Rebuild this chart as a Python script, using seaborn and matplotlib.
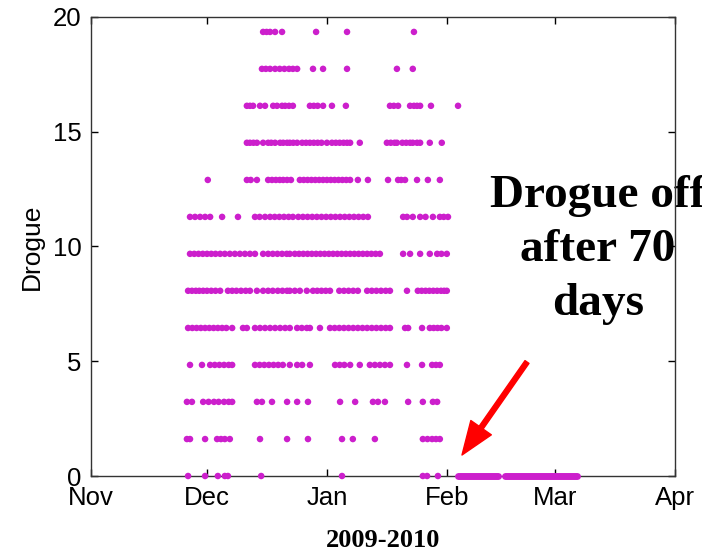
import pandas as pd
import matplotlib
matplotlib.use('Agg')
import matplotlib.pyplot as plt
import matplotlib.dates as mdates
import seaborn as sns

start = pd.Timestamp('2009-11-01')

# drogue value for each row of points
levels = [0.0, 1.61, 3.23, 4.84, 6.45, 8.07, 9.68, 11.29, 12.9, 14.52, 16.13, 17.74, 19.35]

# days since 1 Nov 2009, one list per row
lvl0 = [25.1, 29.5, 32.8, 34.6, 35.4, 44.0, 64.9, 85.8, 86.9, 89.7]
lvl1 = [24.8, 25.6, 29.5, 32.6, 33.6, 34.6, 35.9, 43.7, 50.7, 56.1, 64.9, 67.7, 73.4,
        85.8, 87.0, 88.2, 89.2, 90.2]
lvl2 = [24.8, 26.1, 29.0, 30.4, 31.8, 33.0, 34.4, 35.6, 36.5, 42.9, 44.2, 46.8, 50.7,
        53.3, 56.1, 64.4, 68.3, 72.9, 74.2, 76.0, 82.0, 85.8, 88.4, 89.5]
lvl3 = [25.6, 28.7, 30.8, 32.0, 33.2, 34.4, 35.6, 36.5, 42.4, 43.6, 44.8, 46.0, 47.2,
        48.4, 49.6, 51.4, 53.3, 54.6, 56.6, 63.1, 64.3, 65.5, 67.0, 69.5, 72.1, 73.4,
        74.7, 76.0, 77.3, 81.7, 85.6, 88.2, 89.2, 90.2]
lvl4 = [25.1, 26.2, 27.3, 28.4, 29.5, 30.6, 31.7, 32.8, 33.9, 35.0, 36.5, 39.3, 40.3,
        42.4, 43.7, 45.0, 46.3, 47.6, 48.9, 50.2, 51.4, 53.3, 54.5, 55.8, 56.6, 59.2,
        61.8, 63.0, 64.2, 65.4, 66.6, 67.8, 69.0, 70.2, 71.4, 72.6, 73.8, 75.0, 76.2,
        77.3, 81.2, 82.0, 85.6, 87.6, 88.6, 89.6, 90.6, 92.0]
lvl5 = [25.1, 26.1, 27.1, 28.0, 29.0, 30.0, 31.1, 32.2, 33.4, 35.4, 36.5, 37.6, 38.8,
        40.0, 41.1, 42.9, 44.5, 45.8, 47.0, 48.3, 49.5, 50.7, 51.4, 52.7, 54.0, 55.8,
        57.4, 58.5, 59.6, 60.7, 61.8, 64.2, 65.4, 66.6, 67.8, 69.0, 71.4, 72.6, 73.8,
        75.0, 76.2, 77.3, 81.7, 84.5, 85.5, 86.5, 87.5, 88.5, 89.5, 90.5, 91.3, 92.0]
lvl6 = [25.6, 26.7, 27.8, 28.9, 30.0, 31.1, 32.2, 33.4, 34.6, 35.9, 37.2, 38.5, 39.8,
        41.1, 42.4, 44.5, 45.8, 47.0, 48.2, 49.4, 50.6, 51.4, 52.7, 53.8, 54.9, 56.0,
        57.1, 58.2, 59.3, 60.4, 61.5, 62.6, 63.7, 64.8, 65.9, 67.0, 68.1, 69.2, 70.3,
        71.4, 72.5, 73.6, 74.7, 80.7, 82.5, 85.1, 87.6, 89.5, 90.6, 92.0]
lvl7 = [25.6, 26.9, 28.2, 29.5, 30.8, 33.9, 38.0, 42.4, 43.6, 45.0, 46.3, 47.5, 48.7,
        49.9, 51.1, 52.2, 53.6, 54.8, 56.0, 57.2, 58.4, 59.6, 60.8, 62.0, 63.2, 64.4,
        65.6, 66.8, 68.0, 69.2, 70.4, 71.6, 80.7, 81.7, 83.2, 85.1, 86.5, 88.4, 90.2,
        91.2, 92.3]
lvl8 = [30.2, 40.3, 41.3, 42.9, 45.8, 46.8, 47.8, 48.8, 49.7, 50.7, 51.7, 54.0, 55.0,
        56.0, 57.0, 58.0, 59.0, 60.0, 61.0, 62.0, 63.0, 64.0, 65.0, 66.0, 67.0, 69.0,
        71.6, 76.8, 79.4, 80.2, 81.2, 84.3, 87.1, 90.2]
lvl9 = [40.3, 41.1, 42.0, 42.9, 44.5, 45.8, 46.6, 47.6, 48.9, 49.7, 50.7, 51.4, 52.3,
        53.3, 54.6, 55.6, 56.6, 57.6, 58.6, 59.6, 61.0, 62.3, 63.3, 64.3, 65.3, 66.2,
        67.0, 69.5, 76.5, 77.5, 78.5, 79.1, 80.5, 81.5, 82.5, 83.2, 84.3, 85.1, 87.6,
        90.7]
lvl10 = [40.3, 41.1, 41.9, 43.7, 45.0, 47.1, 48.1, 49.4, 50.2, 51.2, 52.2, 56.6, 57.6,
         58.6, 60.0, 62.3, 65.9, 77.3, 78.3, 79.4, 82.5, 83.5, 84.3, 85.1, 87.9, 94.9]
lvl11 = [44.2, 45.2, 46.3, 47.6, 48.8, 50.0, 51.2, 52.2, 53.3, 57.4, 60.0, 66.2, 79.1,
         83.2]
lvl12 = [44.5, 45.4, 46.3, 47.6, 49.4, 58.2, 66.2, 83.5]

# densely sampled stretches after the drogue came off (start, end in days)
off_start = [94.9, 107.0]
off_end = [105.2, 125.6]

rows = [lvl0, lvl1, lvl2, lvl3, lvl4, lvl5, lvl6, lvl7, lvl8, lvl9, lvl10, lvl11, lvl12]
frames = []
for lev, days in zip(levels, rows):
    frames.append(pd.DataFrame({'day': days, 'drogue': lev}))
df = pd.concat(frames, ignore_index=True)
df['date'] = start + pd.to_timedelta(df['day'], unit='D')

sns.set_style('ticks')
plt.rcParams['font.family'] = ['Liberation Sans', 'DejaVu Sans']
plt.rcParams['text.color'] = 'black'
plt.rcParams['axes.labelcolor'] = 'black'
plt.rcParams['xtick.color'] = 'black'
plt.rcParams['ytick.color'] = 'black'

mag = '#cc1fcc'
fig = plt.figure(figsize=(7.02, 5.52), dpi=100)
ax = fig.add_axes([91 / 702, 1 - 476 / 552, 584 / 702, 459 / 552])

sns.scatterplot(data=df, x='date', y='drogue', ax=ax, color=mag, s=22,
                marker='o', edgecolor='none', clip_on=False, zorder=3)

for a, b in zip(off_start, off_end):
    ax.plot([start + pd.Timedelta(days=a), start + pd.Timedelta(days=b)], [0, 0],
            color=mag, lw=5, solid_capstyle='round', clip_on=False, zorder=3)

ax.set_xlim(pd.Timestamp('2009-11-01'), pd.Timestamp('2010-04-01'))
ax.set_ylim(0, 20)
ax.set_yticks([0, 5, 10, 15, 20])
ax.xaxis.set_major_locator(mdates.MonthLocator())
ax.xaxis.set_major_formatter(mdates.DateFormatter('%b'))
ax.tick_params(direction='in', length=5, width=1, top=True, right=True,
               labelsize=18.5, pad=7)
for sp in ax.spines.values():
    sp.set_color('#333333')
    sp.set_linewidth(1)

ax.set_ylabel('Drogue', fontsize=19, labelpad=6)
ax.set_xlabel('2009-2010', fontsize=19, fontweight='bold',
              family=['Liberation Serif', 'DejaVu Serif'], labelpad=14)

ax.text(598 / 702, 1 - 250 / 552, 'Drogue off\nafter 70\ndays', transform=fig.transFigure,
        ha='center', va='center', fontsize=34, fontweight='bold', linespacing=1.38,
        family=['Liberation Serif', 'DejaVu Serif'], zorder=2, clip_on=False)

ax.annotate('', xy=(462 / 702, 1 - 455 / 552), xycoords='figure fraction',
            xytext=(527 / 702, 1 - 362 / 552), textcoords='figure fraction',
            arrowprops=dict(facecolor='red', edgecolor='red', width=3.5,
                            headwidth=18, headlength=24))

fig.savefig('out.png', dpi=100)
